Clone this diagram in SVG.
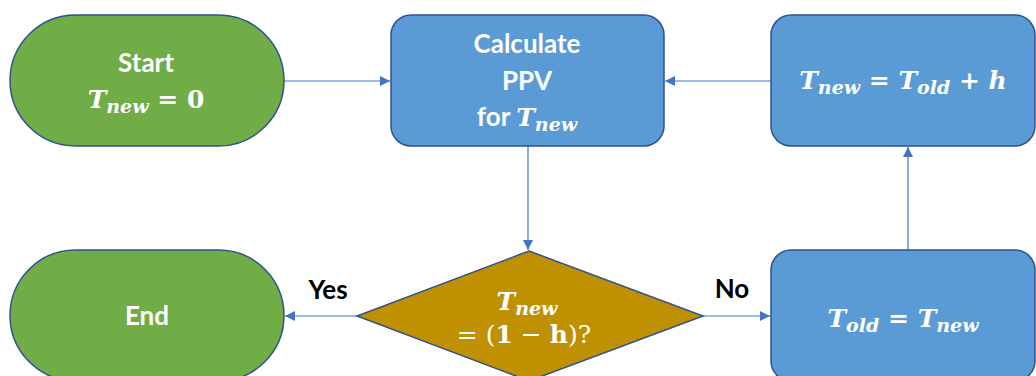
<svg xmlns="http://www.w3.org/2000/svg" width="1036" height="376" viewBox="0 0 1036 376">
<defs>
<marker id="arr" viewBox="0 0 10 10" refX="10" refY="5" markerWidth="10" markerHeight="10" markerUnits="userSpaceOnUse" orient="auto">
<path d="M0,0 L10,5 L0,10 Z" fill="#4472C4"/>
</marker>
<style>
.shape{stroke:#2F528F;stroke-width:1.5}
.green{fill:#70AD47}
.blue{fill:#5B9BD5}
.gold{fill:#BF9000}
.lbl{font-family:Lato,"Liberation Sans",sans-serif;font-weight:bold;font-size:26px;fill:#fff;text-anchor:middle}
.math{font-family:"DejaVu Serif","Liberation Serif",serif;font-weight:bold;font-style:italic;font-size:25px;fill:#fff;text-anchor:middle}
.sub{font-size:19px}
.up{font-style:normal}
.edge{fill:none;stroke:#4472C4;stroke-width:1.2;marker-end:url(#arr)}
.elbl{font-family:Lato,"Liberation Sans",sans-serif;font-weight:bold;font-size:26px;fill:#000;text-anchor:middle}
</style>
</defs>
<g id="connectors">
<line class="edge" x1="284" y1="81" x2="390" y2="81"/>
<line class="edge" x1="528" y1="146" x2="528" y2="250"/>
<line class="edge" x1="357" y1="316" x2="285" y2="316"/>
<line class="edge" x1="703" y1="316" x2="770" y2="316"/>
<line class="edge" x1="908" y1="250" x2="908" y2="147"/>
<line class="edge" x1="771" y1="81" x2="665" y2="81"/>
<text class="elbl" x="328" y="299">Yes</text>
<text class="elbl" x="732" y="298">No</text>
</g>
<g id="start">
<rect class="shape green" x="10" y="15" width="274" height="131" rx="65.5"/>
<text class="lbl" x="146" y="72">Start</text>
<text class="math" x="146" y="108">T<tspan class="sub" dy="5">new</tspan><tspan dy="-5" class="up"> = 0</tspan></text>
</g>
<g id="calc">
<rect class="shape blue" x="391" y="15" width="273" height="131" rx="20"/>
<text class="lbl" x="527" y="53">Calculate</text>
<text class="lbl" x="527" y="90">PPV</text>
<text class="lbl" x="527" y="126">for <tspan class="math">T<tspan class="sub" dy="5">new</tspan></tspan></text>
</g>
<g id="update">
<rect class="shape blue" x="771" y="15" width="264" height="131" rx="20"/>
<text class="math" x="903" y="89">T<tspan class="sub" dy="5">new</tspan><tspan dy="-5" class="up"> = </tspan><tspan>T</tspan><tspan class="sub" dy="5">old</tspan><tspan dy="-5" class="up"> + </tspan><tspan>h</tspan></text>
</g>
<g id="end">
<rect class="shape green" x="10" y="250" width="274" height="131" rx="65.5"/>
<text class="lbl" x="147" y="325">End</text>
</g>
<g id="decision">
<polygon class="shape gold" points="529,251 703,316 529,381 357,316"/>
<text class="math" x="527" y="310">T<tspan class="sub" dy="5">new</tspan></text>
<text class="math up" x="524" y="343" style="font-weight:normal">= (<tspan style="font-weight:bold">1</tspan> − <tspan style="font-weight:bold">h</tspan>)?</text>
</g>
<g id="assign">
<rect class="shape blue" x="771" y="250" width="264" height="131" rx="20"/>
<text class="math" x="903" y="327">T<tspan class="sub" dy="5">old</tspan><tspan dy="-5" class="up"> = </tspan><tspan>T</tspan><tspan class="sub" dy="5">new</tspan></text>
</g>
</svg>
